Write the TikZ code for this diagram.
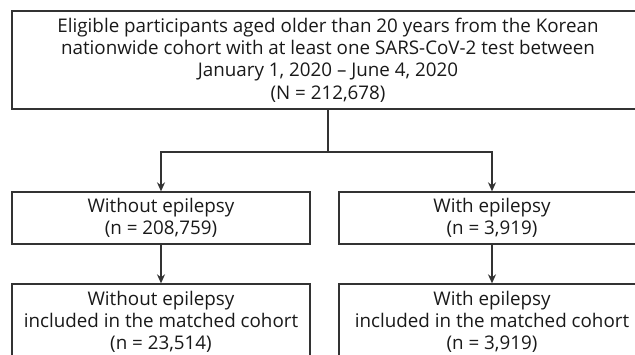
\documentclass[tikz,border=0pt]{standalone}
\usepackage{fontspec}
\setmainfont{Open Sans}
\usetikzlibrary{arrows.meta}
\begin{document}
\begin{tikzpicture}[x=1pt,y=-1pt,
  box/.style={draw=black!80, line width=1.3pt, align=center, inner sep=0pt,
    font=\fontsize{18.8}{22.3}\selectfont, text=black!90},
  conn/.style={draw=black!80, line width=1.3pt},
  arr/.style={conn, -{Stealth[length=9pt,width=8pt]}}]
\useasboundingbox (0,0) rectangle (635,354);
\clip (0,0) rectangle (635,354);
\node[box, minimum width=632pt, minimum height=98pt] (top) at (328,60)
  {Eligible participants aged older than 20 years from the Korean\\
   nationwide cohort with at least one SARS-CoV-2 test between\\
   January 1, 2020 -- June 4, 2020\\
   (N = 212,678)};
\node[box, minimum width=298pt, minimum height=52pt] (wo) at (161,218)
  {Without epilepsy\\(n = 208,759)};
\node[box, minimum width=306pt, minimum height=52pt] (w) at (492,218)
  {With epilepsy\\(n = 3,919)};
\node[box, minimum width=298pt, minimum height=76pt] (wom) at (161,322)
  {Without epilepsy\\included in the matched cohort\\(n = 23,514)};
\node[box, minimum width=306pt, minimum height=76pt] (wm) at (492,322)
  {With epilepsy\\included in the matched cohort\\(n = 3,919)};
\coordinate (split) at (328,152);
\draw[conn] (top.south) -- (split);
\draw[arr] (split) -| (wo.north);
\draw[arr] (split) -| (w.north);
\draw[arr] (wo.south) -- (wom.north);
\draw[arr] (w.south) -- (wm.north);
\end{tikzpicture}
\end{document}
